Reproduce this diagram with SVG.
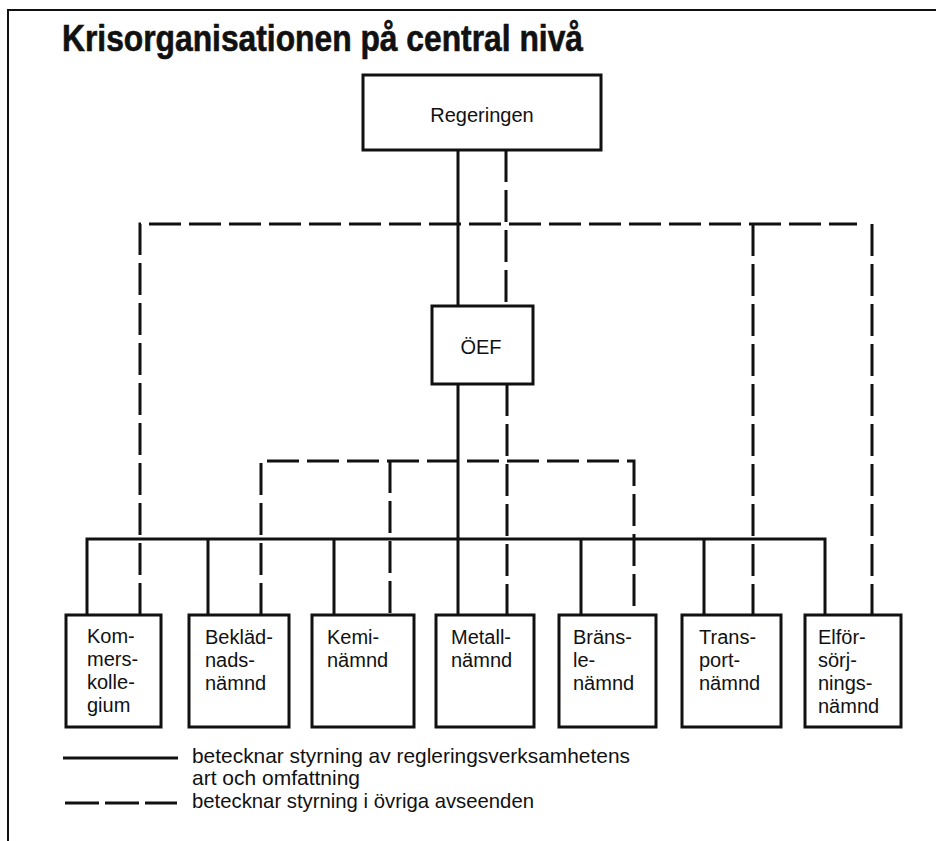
<svg xmlns="http://www.w3.org/2000/svg" width="936" height="841" viewBox="0 0 936 841">
<style>
.box{fill:#fff;stroke:#111;stroke-width:3}
.t{font-family:"Liberation Sans",Arial,sans-serif;font-size:20px;fill:#111}
.lg{font-family:"Liberation Sans",Arial,sans-serif;font-size:21px;fill:#111}
.s{fill:none;stroke:#111;stroke-width:3}
.d{fill:none;stroke:#111;stroke-width:3;stroke-dasharray:32 8}
</style>
<rect width="936" height="841" fill="#fff"/>
<path d="M8,841 V10 H936" fill="none" stroke="#111" stroke-width="2"/>
<text x="62" y="51" font-family="Liberation Sans,Arial,sans-serif" font-weight="bold" font-size="36" textLength="521" lengthAdjust="spacingAndGlyphs" fill="#111" stroke="#111" stroke-width="0.6">Krisorganisationen på central nivå</text>
<g id="connectors">
<path class="s" d="M458,150 V306 M458,384 V615"/>
<path class="s" d="M87,615 V539 H825 V615 M208,539 V615 M334,539 V615 M581,539 V615 M704,539 V615"/>
<path class="d" d="M506,150 V306 M507,384 V615"/>
<path class="d" d="M140,615 V224 H857"/>
<path class="d" d="M872,224 V615"/>
<path class="d" d="M753,224 V615"/>
<path class="d" d="M261,615 V461 H634 V615"/>
<path class="d" d="M390,461 V615"/>
</g>
<g id="regeringen"><rect class="box" x="363" y="75" width="238" height="75"/><text class="t" x="482" y="122" text-anchor="middle">Regeringen</text></g>
<g id="oef"><rect class="box" x="432" y="306" width="101" height="78"/><text class="t" x="481" y="354" text-anchor="middle" font-size="19">ÖEF</text></g>
<g id="kommers"><rect class="box" x="66" y="615" width="95" height="112"/><text class="t" x="87" y="643">Kom-</text><text class="t" x="87" y="666">mers-</text><text class="t" x="87" y="689">kolle-</text><text class="t" x="87" y="712">gium</text></g>
<g id="beklad"><rect class="box" x="189" y="615" width="100" height="112"/><text class="t" x="205" y="644">Bekläd-</text><text class="t" x="205" y="667">nads-</text><text class="t" x="205" y="690">nämnd</text></g>
<g id="kemi"><rect class="box" x="312" y="615" width="102" height="112"/><text class="t" x="327" y="644">Kemi-</text><text class="t" x="327" y="667">nämnd</text></g>
<g id="metall"><rect class="box" x="436" y="615" width="98" height="112"/><text class="t" x="451" y="644">Metall-</text><text class="t" x="451" y="667">nämnd</text></g>
<g id="bransle"><rect class="box" x="559" y="615" width="97" height="112"/><text class="t" x="573" y="644">Bräns-</text><text class="t" x="573" y="667">le-</text><text class="t" x="573" y="690">nämnd</text></g>
<g id="transport"><rect class="box" x="682" y="615" width="99" height="112"/><text class="t" x="699" y="644">Trans-</text><text class="t" x="699" y="667">port-</text><text class="t" x="699" y="690">nämnd</text></g>
<g id="elfor"><rect class="box" x="805" y="615" width="96" height="112"/><text class="t" x="818" y="644">Elför-</text><text class="t" x="818" y="667">sörj-</text><text class="t" x="818" y="690">nings-</text><text class="t" x="818" y="713">nämnd</text></g>
<g id="legend">
<path class="s" d="M63,758 H178"/>
<path class="s" d="M65,803 H99 M105,803 H139 M145,803 H177"/>
<text class="lg" x="192" y="763" textLength="438" lengthAdjust="spacingAndGlyphs">betecknar styrning av regleringsverksamhetens</text>
<text class="lg" x="192" y="785" textLength="168" lengthAdjust="spacingAndGlyphs">art och omfattning</text>
<text class="lg" x="192" y="808" textLength="342" lengthAdjust="spacingAndGlyphs">betecknar styrning i övriga avseenden</text>
</g>
</svg>
